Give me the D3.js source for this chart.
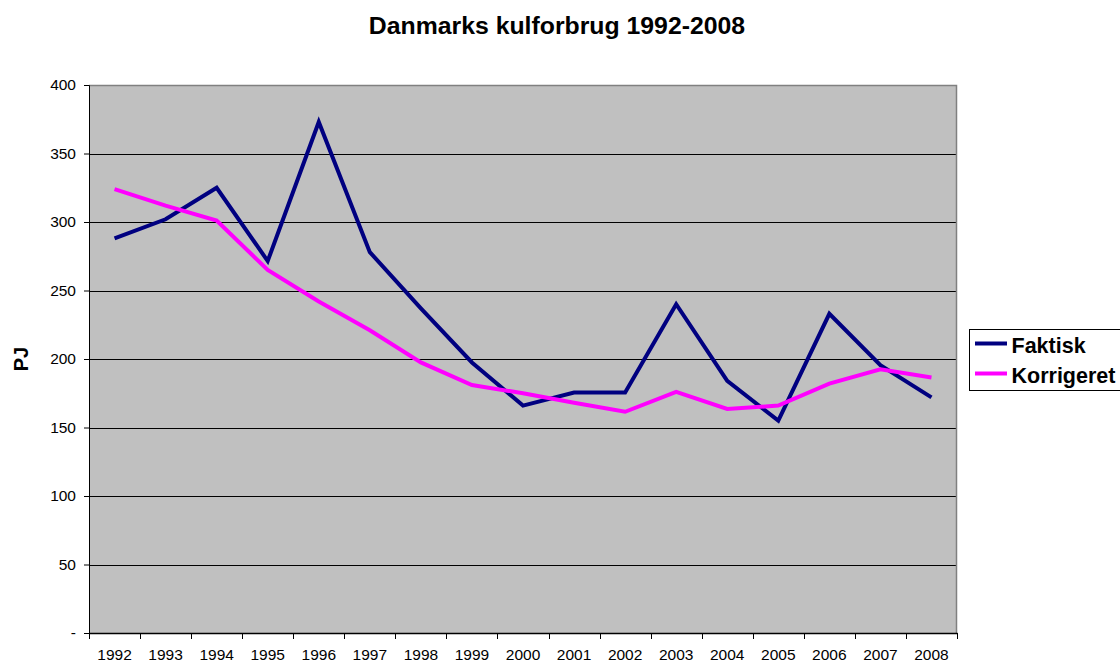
<!DOCTYPE html>
<html><head><meta charset="utf-8">
<script src="https://cdn.jsdelivr.net/npm/d3@7"></script>
<style>body{margin:0;background:#fff}svg{display:block;font-family:Arial,"Liberation Sans",sans-serif}</style>
</head><body><svg id="c" width="1120" height="662"></svg>
<script>
const years = ["1992","1993","1994","1995","1996","1997","1998","1999","2000","2001","2002","2003","2004","2005","2006","2007","2008"];
const faktisk = [288,302,325,271.5,373,278,237,197.5,166,175.5,175.5,240,184,155,233,195.5,172];
const korrigeret = [324,312,301,265,242,221,197.5,181,175,168,161.5,176,163.5,166,182,192.5,186.5];
const yTicks = [0,50,100,150,200,250,300,350,400];
const seriesNames = ["Faktisk","Korrigeret"];
const colors = ["#000080","#ff00ff"];

const svg = d3.select("#c");
const L=89,R=957,T=85,B=633;
const x = d3.scaleBand().domain(years).range([L,R]);
const y = d3.scaleLinear().domain([0,400]).range([B,T]);
const FF = "Arial, 'Liberation Sans', sans-serif";

svg.append("rect").attr("x",L).attr("y",T).attr("width",R-L).attr("height",B-T).attr("fill","#c0c0c0");
// grid
svg.append("g").selectAll("line").data(yTicks.filter(d=>d>0&&d<400)).join("line")
  .attr("x1",L).attr("x2",R).attr("y1",d=>Math.round(y(d))+0.5).attr("y2",d=>Math.round(y(d))+0.5)
  .attr("stroke","#000").attr("stroke-width",1);
// border top/right
svg.append("path").attr("d",`M${L},${T+0.5}H${R-0.5}V${B}`).attr("fill","none").attr("stroke","#808080").attr("stroke-width",1.5);

// y axis
const ya = svg.append("g").attr("transform",`translate(${L},0)`)
  .call(d3.axisLeft(y).tickValues(yTicks).tickSize(5).tickPadding(8).tickFormat(d=>d===0?"-":d));
ya.attr("font-size",null);
ya.selectAll("text").attr("font-size",15.5).attr("fill","#000").style("font-family",FF);
ya.select(".domain").attr("stroke","#000");
// x axis
const xa = svg.append("g").attr("transform",`translate(0,${B})`)
  .call(d3.axisBottom(x).tickSize(0).tickPadding(16));
xa.attr("font-size",null);
xa.selectAll("text").attr("font-size",15.5).attr("fill","#000").style("font-family",FF);
xa.select(".domain").attr("stroke","#000").attr("stroke-width",1.5);
const bounds = years.map(d=>x(d)).concat([R]);
svg.append("g").selectAll("line").data(bounds).join("line")
  .attr("x1",d=>Math.round(d)+0.5).attr("x2",d=>Math.round(d)+0.5).attr("y1",B).attr("y2",B+6).attr("stroke","#000");

const line = d3.line().x((d,i)=>x(years[i])+x.bandwidth()/2).y(d=>y(d));
[faktisk,korrigeret].forEach((s,k)=>{
  svg.append("path").datum(s).attr("d",line).attr("fill","none").attr("stroke",colors[k])
    .attr("stroke-width",4).attr("stroke-linejoin","miter");
});

svg.append("text").attr("x",557).attr("y",34).attr("text-anchor","middle").attr("font-size",24.8).attr("font-weight","bold").text("Danmarks kulforbrug 1992-2008");
svg.append("text").attr("transform","translate(27.5,359) rotate(-90)").attr("text-anchor","middle").attr("font-size",20).attr("font-weight","bold").text("PJ");

// legend
const lg = svg.append("g");
lg.append("rect").attr("x",969.5).attr("y",329.5).attr("width",152).attr("height",61).attr("fill","#fff").attr("stroke","#000");
seriesNames.forEach((n,i)=>{
  const yy = 343.5+i*30;
  lg.append("line").attr("x1",975).attr("x2",1007).attr("y1",yy).attr("y2",yy).attr("stroke",colors[i]).attr("stroke-width",4);
  lg.append("text").attr("x",1011.5).attr("y",yy+9).attr("font-size",21.5).attr("font-weight","bold").text(n);
});
</script></body></html>
